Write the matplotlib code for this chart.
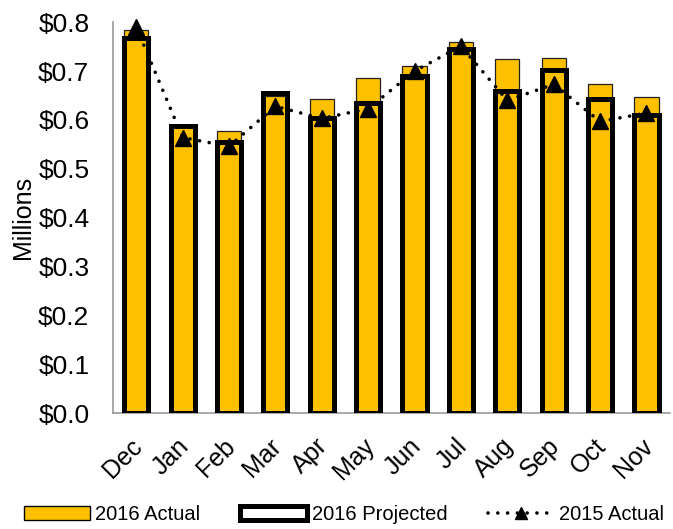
import matplotlib.pyplot as plt
import matplotlib.transforms as mtransforms
from matplotlib.patches import Patch
from matplotlib.lines import Line2D
import numpy as np

plt.rcParams['font.family'] = ['Liberation Sans', 'DejaVu Sans']

months = ['Dec', 'Jan', 'Feb', 'Mar', 'Apr', 'May', 'Jun', 'Jul', 'Aug', 'Sep', 'Oct', 'Nov']
actual_2016 = [0.785, 0.585, 0.577, 0.650, 0.642, 0.685, 0.710, 0.759, 0.724, 0.726, 0.673, 0.646]
projected_2016 = [0.768, 0.587, 0.554, 0.656, 0.605, 0.634, 0.690, 0.745, 0.659, 0.702, 0.642, 0.611]
actual_2015 = [0.790, 0.564, 0.546, 0.628, 0.603, 0.623, 0.700, 0.751, 0.640, 0.673, 0.597, 0.614]

amarelo = '#FFC000'
pontilhado = (0, (0.01, 2.7))
x = np.arange(len(months))

fig = plt.figure(figsize=(6.73, 5.29), dpi=100)
ax = fig.add_axes([0.168, 0.219, 0.827, 0.739])

ax.bar(x, actual_2016, width=0.52, color=amarelo, edgecolor='#222222', linewidth=0.9, zorder=2)
ax.bar(x, projected_2016, width=0.52, facecolor='none', edgecolor='black', linewidth=3.6, zorder=3)
ax.plot(x, actual_2015, color='black', linestyle=pontilhado, dash_capstyle='round',
        linewidth=2.6, marker='^', markersize=11, zorder=4, clip_on=False)

ax.set_xlim(-0.5, 11.5)
ax.set_ylim(0, 0.8)
ax.set_yticks(np.arange(0, 0.81, 0.1))
ax.set_yticklabels([f"${v:.1f}" for v in np.arange(0, 0.81, 0.1)], fontsize=19)
ax.set_xticks(x)
ax.set_xticklabels(months, fontsize=18, rotation=45, ha='right', rotation_mode='anchor')
ax.tick_params(axis='y', length=0, pad=17)
ax.tick_params(axis='x', length=0, pad=15)
ax.set_ylabel('Millions', fontsize=18, labelpad=2)

# desloca os rótulos dos meses um pouco para a esquerda
desloc = mtransforms.ScaledTranslation(-0.06, 0, fig.dpi_scale_trans)
for lbl in ax.get_xticklabels():
    lbl.set_transform(lbl.get_transform() + desloc)

for lado in ['top', 'right']:
    ax.spines[lado].set_visible(False)
for lado in ['left', 'bottom']:
    ax.spines[lado].set_color('#999999')
    ax.spines[lado].set_linewidth(1.2)

handles = [
    Patch(facecolor=amarelo, edgecolor='black', linewidth=1),
    Patch(facecolor='white', edgecolor='black', linewidth=3.6),
    Line2D([0], [0], color='black', linestyle=pontilhado, dash_capstyle='round',
           linewidth=2.6, marker='^', markersize=9),
]
fig.legend(handles, ['2016 Actual', '2016 Projected', '2015 Actual'], loc='lower center',
           bbox_to_anchor=(0.511, -0.025), ncol=3, frameon=False, fontsize=14.5,
           handlelength=3.3, handletextpad=0.25, columnspacing=2.0)

plt.savefig('out.png', dpi=100)
